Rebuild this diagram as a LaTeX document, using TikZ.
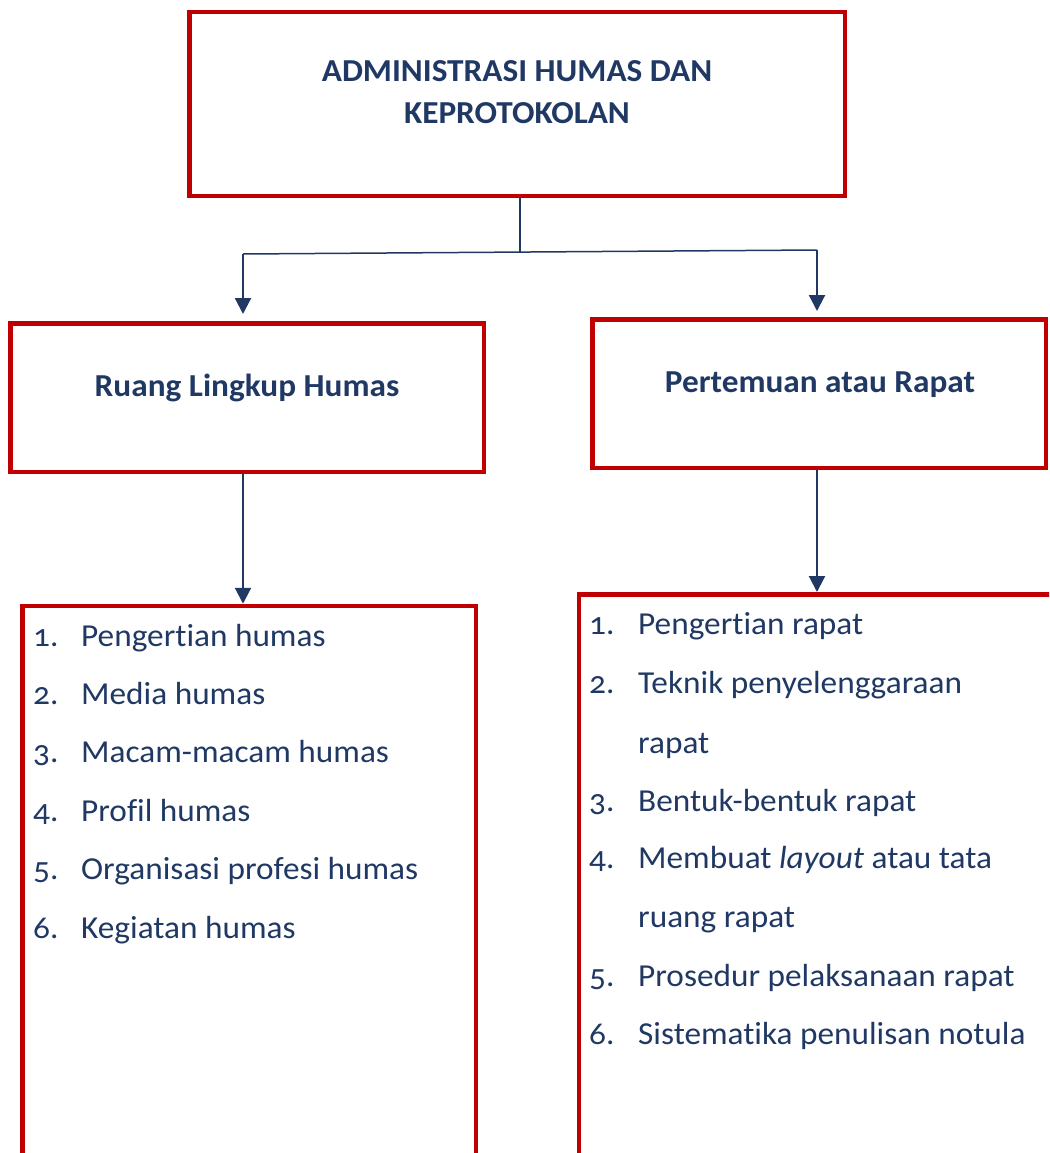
\documentclass[tikz,border=0pt]{standalone}
\usepackage{fontspec}
\setmainfont{Carlito}[Numbers=OldStyle,Ligatures=NoCommon,FakeStretch=1.04]
\usetikzlibrary{arrows.meta}
\definecolor{boxred}{HTML}{C00000}
\definecolor{navy}{HTML}{203864}
\begin{document}
\begin{tikzpicture}[x=1pt,y=-1pt,
  box/.style={draw=boxred,line width=4.5pt,inner sep=0pt},
  conn/.style={draw=navy,line width=2.2pt},
  thinconn/.style={draw=navy,line width=1.5pt},
  arr/.style={conn,-{Triangle[width=16pt,length=16pt]}},
  txt/.style={text=navy,inner sep=0pt,font=\fontsize{32}{38}\selectfont},
  head/.style={text=navy,inner sep=0pt,anchor=base,font=\fontsize{32}{38}\selectfont\bfseries},
  item/.style={txt,anchor=base west}]
\useasboundingbox (0,0) rectangle (1049,1153);
\clip (0,0) rectangle (1049,1153);
% boxes
\node[box,minimum width=655.5pt,minimum height=183.5pt] (top) at (517,104) {};
\node[box,minimum width=473.5pt,minimum height=148.5pt] (lmid) at (247,397.5) {};
\node[box,minimum width=453.5pt,minimum height=148.5pt] (rmid) at (819,393.5) {};
\node[box,minimum width=453.5pt,minimum height=594pt] (lbot) at (249,903) {};
\node[box,minimum width=480.75pt,minimum height=605.5pt] (rbot) at (819.6,897) {};
% titles
\node[head] (t1) at (517,82) {ADMINISTRASI HUMAS DAN};
\node[head] (t2) at (517,124) {KEPROTOKOLAN};
\node[head] (hl) at (247,396) {Ruang Lingkup Humas};
\node[head] (hr) at (820,392) {Pertemuan atau Rapat};
% left list
\node[item] (ln1) at (33,646) {1.};
\node[item] (lt1) at (81,646) {Pengertian humas};
\node[item] (ln2) at (33,704.4) {2.};
\node[item] (lt2) at (81,704.4) {Media humas};
\node[item] (ln3) at (33,762.8) {3.};
\node[item] (lt3) at (81,762.8) {Macam-macam humas};
\node[item] (ln4) at (33,821.2) {4.};
\node[item] (lt4) at (81,821.2) {Profil humas};
\node[item] (ln5) at (33,879.6) {5.};
\node[item] (lt5) at (81,879.6) {Organisasi profesi humas};
\node[item] (ln6) at (33,938) {6.};
\node[item] (lt6) at (81,938) {Kegiatan humas};
% right list
\node[item] (rn1) at (589,634) {1.};
\node[item] (rt1) at (638,634) {Pengertian rapat};
\node[item] (rn2) at (589,693) {2.};
\node[item] (rt2) at (638,693) {Teknik penyelenggaraan};
\node[item] (rt2b) at (638,753) {rapat};
\node[item] (rn3) at (589,811) {3.};
\node[item] (rt3) at (638,811) {Bentuk-bentuk rapat};
\node[item] (rn4) at (589,868) {4.};
\node[item] (rt4) at (638,868) {Membuat \textit{layout} atau tata};
\node[item] (rt4b) at (638,927) {ruang rapat};
\node[item] (rn5) at (589,986) {5.};
\node[item] (rt5) at (638,986) {Prosedur pelaksanaan rapat};
\node[item] (rn6) at (589,1044) {6.};
\node[item] (rt6) at (638,1044) {Sistematika penulisan notula};
% connectors
\coordinate (jm) at (520,252);
\coordinate (jl) at (243,254);
\coordinate (jr) at (817,250);
\draw[thinconn] (top.south -| jm) -- (jm);
\draw[thinconn] (jl) -- (jr);
\draw[arr] (jl) -- ([yshift=7pt]lmid.north -| jl);
\draw[arr] (jr) -- ([yshift=6pt]rmid.north -| jr);
\draw[arr] (lmid.south -| jl) -- (lbot.north -| jl);
\draw[arr] (rmid.south -| jr) -- (rbot.north -| jr);
\end{tikzpicture}
\end{document}
